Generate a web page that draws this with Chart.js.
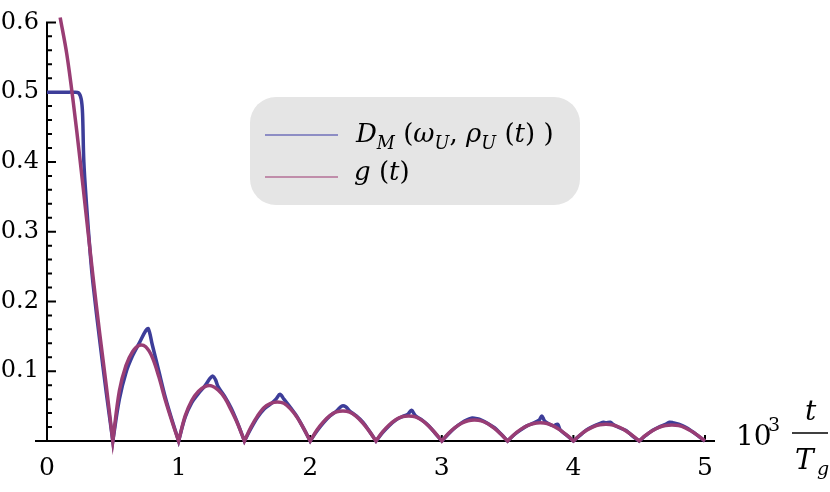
<!DOCTYPE html>
<html>
<head>
<meta charset="utf-8">
<script src="https://cdn.jsdelivr.net/npm/chart.js@4"></script>
<style>
  html, body { margin: 0; padding: 0; background: #fff; }
  #wrap { width: 830px; height: 492px; }
</style>
</head>
<body>
<div id="wrap"><canvas id="plot" width="830" height="492"></canvas></div>
<script>
// g(t)
const gT = [0.10, 0.15, 0.20, 0.25, 0.30, 0.35, 0.40, 0.45, 0.50,
  0.55, 0.60, 0.65, 0.70, 0.75, 0.80, 0.85, 0.90, 0.95, 1.00,
  1.05, 1.10, 1.15, 1.20, 1.25, 1.30, 1.35, 1.40, 1.45, 1.50,
  1.55, 1.60, 1.65, 1.70, 1.75, 1.80, 1.85, 1.90, 1.95, 2.00,
  2.05, 2.10, 2.15, 2.20, 2.25, 2.30, 2.35, 2.40, 2.45, 2.50,
  2.55, 2.60, 2.65, 2.70, 2.75, 2.80, 2.85, 2.90, 2.95, 3.00,
  3.05, 3.10, 3.15, 3.20, 3.25, 3.30, 3.35, 3.40, 3.45, 3.50,
  3.55, 3.60, 3.65, 3.70, 3.75, 3.80, 3.85, 3.90, 3.95, 4.00,
  4.05, 4.10, 4.15, 4.20, 4.25, 4.30, 4.35, 4.40, 4.45, 4.50,
  4.55, 4.60, 4.65, 4.70, 4.75, 4.80, 4.85, 4.90, 4.95, 5.00];
const gVal = [0.607, 0.555, 0.485, 0.405, 0.32, 0.235, 0.155, 0.08, 0,
  0.072, 0.108, 0.128, 0.137, 0.135, 0.12, 0.092, 0.058, 0.028, 0,
  0.036, 0.058, 0.071, 0.078, 0.079, 0.073, 0.062, 0.044, 0.024, 0,
  0.020, 0.036, 0.048, 0.054, 0.056, 0.054, 0.046, 0.034, 0.018, 0,
  0.0155, 0.0275, 0.0365, 0.0417, 0.043, 0.0413, 0.0353, 0.0258, 0.0138, 0,
  0.013, 0.023, 0.0306, 0.0349, 0.036, 0.0346, 0.0295, 0.0216, 0.0115, 0,
  0.0108, 0.0192, 0.0255, 0.0291, 0.030, 0.0288, 0.0246, 0.018, 0.0096, 0,
  0.0094, 0.0166, 0.0221, 0.0252, 0.026, 0.025, 0.0213, 0.0156, 0.0083, 0,
  0.0086, 0.0154, 0.0204, 0.0233, 0.024, 0.023, 0.0197, 0.0144, 0.0077, 0,
  0.0083, 0.0147, 0.0196, 0.0223, 0.023, 0.0221, 0.0189, 0.0138, 0.0074, 0];

// D_M(omega_U, rho_U(t))
const dT = [0, 0.05, 0.10, 0.15, 0.20, 0.24, 0.26, 0.27, 0.28, 0.30, 0.33, 0.35, 0.40, 0.45, 0.50,
  0.55, 0.60, 0.65, 0.70, 0.75, 0.77, 0.80, 0.85, 0.90, 0.95, 1.00,
  1.05, 1.10, 1.15, 1.20, 1.24, 1.26, 1.28, 1.30, 1.35, 1.40, 1.45, 1.50,
  1.55, 1.60, 1.65, 1.70, 1.74, 1.77, 1.80, 1.85, 1.90, 1.95, 2.00,
  2.05, 2.10, 2.15, 2.20, 2.24, 2.27, 2.30, 2.35, 2.40, 2.45, 2.50,
  2.55, 2.60, 2.65, 2.70, 2.74, 2.77, 2.80, 2.85, 2.90, 2.95, 3.00,
  3.05, 3.10, 3.15, 3.20, 3.23, 3.27, 3.30, 3.35, 3.40, 3.45, 3.50,
  3.55, 3.60, 3.65, 3.70, 3.74, 3.76, 3.78, 3.80, 3.85, 3.88, 3.90, 3.95, 4.00,
  4.05, 4.10, 4.15, 4.20, 4.23, 4.25, 4.28, 4.30, 4.35, 4.40, 4.45, 4.50,
  4.55, 4.60, 4.65, 4.70, 4.73, 4.76, 4.80, 4.85, 4.90, 4.95, 5.00];
const dVal = [0.5, 0.5, 0.5, 0.5, 0.5, 0.499, 0.49, 0.47, 0.40, 0.34, 0.265, 0.225, 0.145, 0.07, 0,
  0.06, 0.098, 0.122, 0.14, 0.158, 0.161, 0.138, 0.10, 0.062, 0.03, 0,
  0.034, 0.055, 0.068, 0.079, 0.09, 0.093, 0.088, 0.078, 0.064, 0.047, 0.025, 0,
  0.018, 0.034, 0.046, 0.053, 0.06, 0.067, 0.06, 0.048, 0.035, 0.018, 0,
  0.014, 0.026, 0.036, 0.043, 0.05, 0.049, 0.043, 0.036, 0.027, 0.014, 0,
  0.012, 0.022, 0.03, 0.035, 0.038, 0.044, 0.036, 0.03, 0.022, 0.011, 0,
  0.01, 0.019, 0.026, 0.031, 0.033, 0.032, 0.03, 0.025, 0.019, 0.01, 0,
  0.009, 0.016, 0.022, 0.026, 0.03, 0.036, 0.029, 0.026, 0.022, 0.024, 0.016, 0.008, 0,
  0.008, 0.016, 0.021, 0.025, 0.027, 0.026, 0.027, 0.024, 0.019, 0.015, 0.007, 0,
  0.008, 0.015, 0.02, 0.024, 0.027, 0.026, 0.024, 0.02, 0.014, 0.007, 0];

const xTicks = [0, 1, 2, 3, 4, 5];
const yTicks = [0.1, 0.2, 0.3, 0.4, 0.5, 0.6];

const blue = '#3d3d99';
const red = '#993d74';
const serif = '"DejaVu Serif", serif';

// zeros are sharp cusps: doubling the point makes the spline turn there
const toPts = (xs, ys) => {
  const pts = [];
  xs.forEach((x, i) => {
    pts.push({ x: x, y: ys[i] });
    if (ys[i] === 0 && i > 0 && i < xs.length - 1) pts.push({ x: x, y: ys[i] });
  });
  return pts;
};

// draw a row of text pieces, each {t, it, sub}
function drawRuns(ctx, runs, x, y, size) {
  runs.forEach(r => {
    const s = r.sub ? size * 0.68 : size;
    ctx.font = (r.it ? 'italic ' : '') + s + 'px ' + serif;
    ctx.fillText(r.t, x, r.sub ? y + size * 0.25 : y);
    x += ctx.measureText(r.t).width;
  });
}

const frame = {
  id: 'frame',
  beforeDatasetsDraw(chart) {
    const ctx = chart.ctx;
    const xs = chart.scales.x, ys = chart.scales.y;
    const x0 = xs.getPixelForValue(0), y0 = ys.getPixelForValue(0);
    ctx.save();
    ctx.strokeStyle = '#000';
    ctx.lineWidth = 2;
    ctx.beginPath();
    ctx.moveTo(35, y0); ctx.lineTo(xs.getPixelForValue(5) + 10, y0);
    ctx.moveTo(x0, y0 + 1); ctx.lineTo(x0, ys.getPixelForValue(0.6) - 1);
    // y ticks: majors every 0.1, minors every 0.02
    for (let k = 1; k <= 30; k++) {
      const py = ys.getPixelForValue(k * 0.02);
      const len = k % 5 === 0 ? 9 : 5;
      ctx.moveTo(x0, py); ctx.lineTo(x0 + len, py);
    }
    xTicks.slice(1).forEach(v => {
      const px = xs.getPixelForValue(v);
      ctx.moveTo(px, y0); ctx.lineTo(px, y0 - 6);
    });
    ctx.stroke();
    ctx.restore();
  },
  afterDraw(chart) {
    const ctx = chart.ctx;
    ctx.save();
    // legend box
    ctx.fillStyle = '#e5e5e5';
    ctx.beginPath();
    ctx.roundRect(250, 97, 330, 108, 26);
    ctx.fill();
    ctx.lineWidth = 1.5;
    ctx.strokeStyle = '#6f6fb8';
    ctx.beginPath(); ctx.moveTo(265, 135); ctx.lineTo(338, 135); ctx.stroke();
    ctx.strokeStyle = '#b36f96';
    ctx.beginPath(); ctx.moveTo(265, 177); ctx.lineTo(338, 177); ctx.stroke();
    ctx.fillStyle = '#000';
    ctx.textBaseline = 'alphabetic';
    drawRuns(ctx, [
      { t: 'D', it: true }, { t: 'M', it: true, sub: true }, { t: ' (' },
      { t: 'ω', it: true }, { t: 'U', it: true, sub: true }, { t: ', ' },
      { t: 'ρ', it: true }, { t: 'U', it: true, sub: true }, { t: ' (' },
      { t: 't', it: true }, { t: ') )' }
    ], 356, 142, 26);
    drawRuns(ctx, [{ t: 'g', it: true }, { t: ' (' }, { t: 't', it: true }, { t: ')' }], 354, 180, 26);
    // axis label 10^3 t/T_g
    ctx.font = '28px ' + serif;
    ctx.fillText('10', 736, 445);
    ctx.font = '19px ' + serif;
    ctx.fillText('3', 768, 431);
    ctx.lineWidth = 1.5;
    ctx.strokeStyle = '#000';
    ctx.beginPath(); ctx.moveTo(792, 433); ctx.lineTo(828, 433); ctx.stroke();
    ctx.font = 'italic 28px ' + serif;
    ctx.fillText('t', 805, 420);
    ctx.fillText('T', 795, 469);
    ctx.font = 'italic 19px ' + serif;
    ctx.fillText('g', 817, 475);
    ctx.restore();
  }
};

new Chart(document.getElementById('plot'), {
  type: 'line',
  data: {
    datasets: [
      // first dataset is drawn last, so g(t) sits on top
      { label: 'g(t)', data: toPts(gT, gVal), borderColor: red, borderWidth: 3.5,
        pointRadius: 0, tension: 0.35, clip: false },
      { label: 'D_M', data: toPts(dT, dVal), borderColor: blue, borderWidth: 3.5,
        pointRadius: 0, tension: 0.35, clip: false }
    ]
  },
  options: {
    responsive: false,
    animation: false,
    layout: { padding: { left: 0, right: 125, top: 20, bottom: 0 } },
    plugins: { legend: { display: false }, tooltip: { enabled: false } },
    scales: {
      x: {
        type: 'linear', min: 0, max: 5,
        afterBuildTicks: s => { s.ticks = xTicks.map(v => ({ value: v })); },
        ticks: { color: '#000', font: { family: serif, size: 25 }, padding: 12, maxRotation: 0 },
        grid: { display: false, drawTicks: false },
        border: { display: false },
        afterFit: s => { s.height = 51; }
      },
      y: {
        min: 0, max: 0.6,
        afterBuildTicks: s => { s.ticks = yTicks.map(v => ({ value: v })); },
        ticks: { color: '#000', font: { family: serif, size: 24 }, padding: 8,
          callback: v => v.toFixed(1) },
        grid: { display: false, drawTicks: false },
        border: { display: false },
        afterFit: s => { s.width = 47; }
      }
    }
  },
  plugins: [frame]
});
</script>
</body>
</html>
